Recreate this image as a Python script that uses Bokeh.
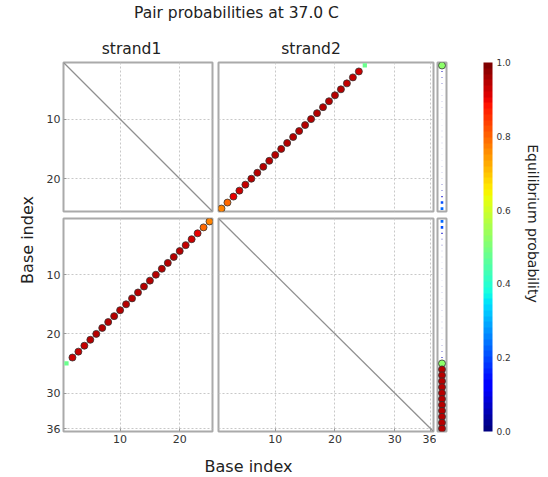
import numpy as np
from bokeh.plotting import figure
from bokeh.models import (Range1d, FactorRange, ColumnDataSource, FixedTicker, Label,
                          ColorBar, LinearColorMapper, PrintfTickFormatter)
from bokeh.layouts import row, column
from bokeh.embed import file_html
from bokeh.resources import INLINE
from bokeh.core.validation import silence
from bokeh.core.validation.warnings import MISSING_RENDERERS

silence(MISSING_RENDERERS, True)

# ---------------- data ----------------
title_text = "Pair probabilities at 37.0 C"
strand_names = ["strand1", "strand2"]
n1 = 25
n2 = 36
axis_label_text = "Base index"
cbar_label_text = "Equilibrium probability"
s1_ticks = [10, 20]
s2_ticks = [10, 20, 30, 36]
cbar_ticks = [0.0, 0.2, 0.4, 0.6, 0.8, 1.0]

# strand1 base i pairs with strand2 base j
pair_s1 = [25, 24, 23, 22, 21, 20, 19, 18, 17, 16, 15, 14, 13, 12, 11, 10, 9, 8, 7, 6, 5, 4, 3, 2, 1]
pair_s2 = [1, 2, 3, 4, 5, 6, 7, 8, 9, 10, 11, 12, 13, 14, 15, 16, 17, 18, 19, 20, 21, 22, 23, 24, 25]
pair_p = [0.77, 0.80, 0.91, 0.93, 0.94, 0.95, 0.95, 0.95, 0.95, 0.95, 0.95, 0.95, 0.95,
          0.95, 0.95, 0.95, 0.95, 0.95, 0.95, 0.95, 0.95, 0.94, 0.94, 0.93, 0.48]

# strand2 intramolecular pairs (both triangle halves)
s2s2_i = [30, 35]
s2s2_j = [35, 30]
s2s2_p = [0.01, 0.01]

# unpaired probabilities
s1_unpaired = [0.52, 0.05, 0.04, 0.03, 0.02, 0.02, 0.02, 0.02, 0.02, 0.02, 0.02, 0.02, 0.02,
               0.02, 0.02, 0.02, 0.02, 0.02, 0.02, 0.02, 0.03, 0.04, 0.07, 0.20, 0.23]
s2_unpaired = [0.23, 0.20, 0.07, 0.04, 0.03, 0.02, 0.02, 0.02, 0.02, 0.02, 0.02, 0.02, 0.02,
               0.02, 0.02, 0.02, 0.02, 0.02, 0.02, 0.02, 0.02, 0.03, 0.04, 0.05, 0.52,
               0.95, 0.95, 0.95, 0.95, 0.95, 0.95, 0.95, 0.95, 0.95, 0.95, 0.95]

# ---------------- colormap (jet) ----------------
def jet_hex(v):
    r = np.interp(v, [0, 0.35, 0.66, 0.89, 1.0], [0, 0, 1, 1, 0.5])
    g = np.interp(v, [0, 0.125, 0.375, 0.64, 0.91, 1.0], [0, 0, 1, 1, 0, 0])
    b = np.interp(v, [0, 0.11, 0.34, 0.65, 1.0], [0.5, 1, 1, 0, 0])
    return "#%02x%02x%02x" % (int(round(r * 255)), int(round(g * 255)), int(round(b * 255)))

jet256 = [jet_hex(v) for v in np.linspace(0, 1, 256)]
jet64 = [jet_hex(v) for v in np.linspace(0, 1, 64)]
mapper = LinearColorMapper(palette=jet256, low=0, high=1)

FONT = "DejaVu Sans"
TXT = "#222222"

def make_source(xs, ys, ps):
    return ColumnDataSource(dict(
        x=xs, y=ys, p=ps,
        marker=["circle" if p >= 0.5 else "square" for p in ps],
        size=[7.0 if p >= 0.5 else max(0.0, 7.0 * float(np.sqrt(p)) - 0.6) for p in ps],
        la=[1.0 if p >= 0.5 else 0.0 for p in ps],
    ))

def add_points(p, src):
    p.scatter("x", "y", source=src, marker="marker", size="size",
              fill_color={"field": "p", "transform": mapper},
              line_color="#333333", line_alpha="la", line_width=0.8)

def panel(ncols, nrows, width, height, bl, br, bt, bb, xticks, yticks, show_x, show_y):
    p = figure(width=width, height=height,
               x_range=Range1d(0.5, ncols + 0.5), y_range=Range1d(nrows + 0.5, 0.5),
               x_axis_location="below" if show_x else None,
               y_axis_location="left" if show_y else None,
               toolbar_location=None, output_backend="svg",
               min_border=0, min_border_left=bl, min_border_right=br,
               min_border_top=bt, min_border_bottom=bb)
    p.outline_line_color = "#aaaaaa"
    p.outline_line_width = 2
    p.background_fill_color = "white"
    p.border_fill_color = "white"
    p.xgrid.ticker = FixedTicker(ticks=xticks)
    p.ygrid.ticker = FixedTicker(ticks=yticks)
    p.grid.grid_line_color = "#c8c8c8"
    p.grid.grid_line_dash = "2 2"
    p.grid.grid_line_width = 1
    for ax in p.axis:
        ax.axis_line_color = None
        ax.major_tick_in = 3
        ax.major_tick_out = 0
        ax.major_tick_line_color = "#999999"
        ax.minor_tick_line_color = None
        ax.major_label_text_font = FONT
        ax.major_label_text_font_size = "11px"
        ax.major_label_text_color = "#333333"
        ax.major_label_standoff = 3
    if show_x:
        p.xaxis.ticker = FixedTicker(ticks=xticks)
    if show_y:
        p.yaxis.ticker = FixedTicker(ticks=yticks)
    return p

def diagonal(p, n):
    lo, hi = 0.5, n + 0.5
    p.line([lo, hi], [lo, hi], line_color="#909090", line_width=1.3)

# top row (rows = strand1)
TOP_H = 158
BOT_H = 237
tl = panel(n1, n1, 175, TOP_H, 23, 3, 6, 3, s1_ticks, s1_ticks, False, True)
diagonal(tl, n1)
tr = panel(n2, n1, 221, TOP_H, 3, 3, 6, 3, s2_ticks, s1_ticks, False, False)
add_points(tr, make_source(pair_s2, pair_s1, pair_p))

# bottom row (rows = strand2)
bl = panel(n1, n2, 175, BOT_H, 23, 3, 4, 20, s1_ticks, s2_ticks, True, True)
add_points(bl, make_source(pair_s1, pair_s2, pair_p))
br = panel(n2, n2, 221, BOT_H, 3, 3, 4, 20, s2_ticks, s2_ticks, True, False)
diagonal(br, n2)
add_points(br, make_source(s2s2_j, s2s2_i, s2s2_p))

def sidebar(n, height, bt, bb, unpaired, name, label_y):
    p = figure(width=36, height=height, x_range=FactorRange("u"),
               y_range=Range1d(n + 0.5, 0.5),
               x_axis_location=None, y_axis_location=None,
               toolbar_location=None, output_backend="svg",
               min_border=0, min_border_left=1, min_border_right=26,
               min_border_top=bt, min_border_bottom=bb)
    p.grid.visible = False
    p.outline_line_color = "#aaaaaa"
    p.outline_line_width = 2
    add_points(p, make_source(["u"] * n, list(range(1, n + 1)), unpaired))
    p.add_layout(Label(x=2.67, y=label_y, text=name, angle=-np.pi / 2,
                       text_align="center", text_baseline="middle",
                       text_font=FONT, text_font_size="15.5px", text_color=TXT))
    return p

sb1 = sidebar(n1, TOP_H, 6, 3, s1_unpaired, strand_names[0], 12.75)
sb2 = sidebar(n2, BOT_H, 4, 20, s2_unpaired, strand_names[1], 16.7)

def blank(width, height, xr, yr, **kw):
    p = figure(width=width, height=height, x_range=Range1d(0, xr), y_range=Range1d(0, yr),
               x_axis_location=None, y_axis_location=None,
               toolbar_location=None, output_backend="svg", min_border=0, **kw)
    p.grid.visible = False
    p.outline_line_color = None
    return p

header = blank(548, 56, 548, 56)
header.add_layout(Label(x=236, y=43.5, text=title_text, text_align="center",
                        text_baseline="middle", text_font=FONT,
                        text_font_size="15.5px", text_color=TXT))
header.add_layout(Label(x=131, y=8, text=strand_names[0], text_align="center",
                        text_baseline="middle", text_font=FONT,
                        text_font_size="15.5px", text_color=TXT))
header.add_layout(Label(x=310.5, y=8, text=strand_names[1], text_align="center",
                        text_baseline="middle", text_font=FONT,
                        text_font_size="15.5px", text_color=TXT))

ylab = blank(40, TOP_H + BOT_H, 40, TOP_H + BOT_H)
ylab.add_layout(Label(x=27, y=205, text=axis_label_text, angle=np.pi / 2,
                      text_align="center", text_baseline="middle", text_font=FONT,
                      text_font_size="16px", text_color=TXT))

xlab = blank(548, 26, 548, 26)
xlab.add_layout(Label(x=248, y=11, text=axis_label_text, text_align="center",
                      text_baseline="middle", text_font=FONT,
                      text_font_size="16px", text_color=TXT))

cfig = blank(76, TOP_H + BOT_H, 65, 369, min_border_left=11, min_border_top=6,
             min_border_bottom=20, min_border_right=0)
cb = ColorBar(color_mapper=LinearColorMapper(palette=jet64, low=0, high=1),
              location="top_left", orientation="vertical", width=9, height=369,
              margin=0, padding=0, ticker=FixedTicker(ticks=cbar_ticks),
              formatter=PrintfTickFormatter(format="%.1f"),
              major_label_text_font=FONT, major_label_text_font_size="9px",
              major_label_text_color="#333333", label_standoff=4,
              major_tick_line_color=None, minor_tick_line_color=None,
              bar_line_color=None, background_fill_alpha=0, border_line_color=None)
cfig.add_layout(cb, "center")
cfig.add_layout(Label(x=49, y=208, text=cbar_label_text, angle=-np.pi / 2,
                      text_align="center", text_baseline="middle", text_font=FONT,
                      text_font_size="14px", text_color=TXT))

grid_col = column(row(tl, tr, sb1), row(bl, br, sb2))
layout = column(header, row(ylab, grid_col, cfig), xlab)

open("out.html", "w").write(file_html(layout, INLINE))
